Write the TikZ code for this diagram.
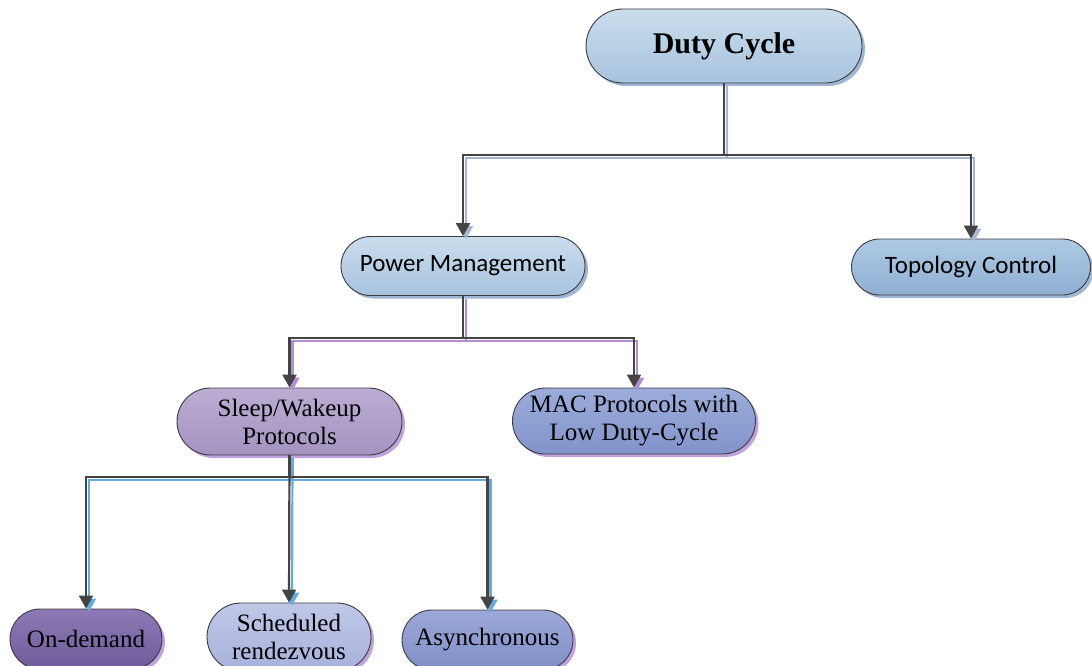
\documentclass[tikz,border=0pt]{standalone}
\usepackage{fontspec}
\setmainfont{Liberation Serif}
\newfontfamily\calfont{Carlito}
\usetikzlibrary{arrows.meta,shadows}
\definecolor{lineDark}{HTML}{444444}
\definecolor{boxLine}{HTML}{3C3C3C}
\definecolor{shOne}{HTML}{A4B6D0}
\definecolor{shTwo}{HTML}{B48CD6}
\definecolor{shThree}{HTML}{62ACE2}
\definecolor{nsBlue}{HTML}{9DB6D6}
\definecolor{nsPurple}{HTML}{C0A2E0}
\definecolor{dcTop}{HTML}{CADDED}
\definecolor{dcBot}{HTML}{A8C3DE}
\definecolor{tcTop}{HTML}{AECAE4}
\definecolor{tcBot}{HTML}{8FAFD3}
\definecolor{swTop}{HTML}{BCADD4}
\definecolor{swBot}{HTML}{A393C0}
\definecolor{macTop}{HTML}{9CACDA}
\definecolor{macBot}{HTML}{8293CB}
\definecolor{odTop}{HTML}{8C7AB6}
\definecolor{odBot}{HTML}{6F5B9B}
\definecolor{srTop}{HTML}{C0C8E8}
\definecolor{srBot}{HTML}{A8B1DB}
\definecolor{asTop}{HTML}{9CA8D8}
\definecolor{asBot}{HTML}{7F8FC6}
\begin{document}
\begin{tikzpicture}[x=1pt,y=-1pt,
  pill/.style={draw=boxLine, line width=0.9pt, inner sep=0pt, align=center,
    general shadow={fill=#1, shadow xshift=3pt, shadow yshift=-3pt}},
  serifbig/.style={font=\fontsize{25}{28}\selectfont},
  sansbig/.style={font=\calfont\fontsize{25}{28}\selectfont},
  conn/.style={draw=lineDark, line width=2.2pt, -{Triangle[length=13pt,width=14pt]}},
  connsh/.style={draw=#1, line width=2.2pt, -{Triangle[length=13pt,width=14pt]}}
]
\useasboundingbox (0,0) rectangle (1092,666);
\clip (0,0) rectangle (1092,666);

% nodes
\node[pill=nsBlue, top color=dcTop, bottom color=dcBot, minimum width=276pt, minimum height=74pt, rounded corners=37pt,
  font=\bfseries\fontsize{30}{34}\selectfont] (dc) at (724,46) {Duty Cycle};
\node[pill=nsBlue, top color=dcTop, bottom color=dcBot, minimum width=244pt, minimum height=59pt, rounded corners=29.5pt, sansbig] (pm) at (463,266) {Power Management};
\node[pill=nsBlue, top color=tcTop, bottom color=tcBot, minimum width=239pt, minimum height=56pt, rounded corners=28pt, sansbig] (tc) at (971,267) {Topology Control};
\node[pill=nsPurple, top color=swTop, bottom color=swBot, minimum width=225pt, minimum height=67pt, rounded corners=33.5pt, serifbig] (sw) at (289.5,421.5) {Sleep/Wakeup\\Protocols};
\node[pill=nsPurple, top color=macTop, bottom color=macBot, minimum width=243pt, minimum height=66pt, rounded corners=33pt, serifbig] (mac) at (634,421) {MAC Protocols with\\Low Duty-Cycle};
\node[pill=nsPurple, top color=odTop, bottom color=odBot, minimum width=152pt, minimum height=60pt, rounded corners=30pt, serifbig] (od) at (86,639) {On-demand};
\node[pill=nsPurple, top color=srTop, bottom color=srBot, minimum width=164pt, minimum height=68pt, rounded corners=34pt, serifbig] (sr) at (289,637) {Scheduled\\rendezvous};
\node[pill=nsPurple, top color=asTop, bottom color=asBot, minimum width=171pt, minimum height=60pt, rounded corners=30pt, serifbig] (as) at (487.5,640) {Asynchronous};

% junction levels
\coordinate (j1) at (0,155);
\coordinate (j2) at (0,338);
\coordinate (j3) at (0,477);

% connector shadows
\begin{scope}[transform canvas={xshift=3pt,yshift=-3pt}]
\draw[connsh=shOne] (dc.south) -- (dc.south |- j1) -| (pm.north);
\draw[connsh=shOne] (dc.south) -- (dc.south |- j1) -| (tc.north);
\draw[connsh=shTwo] (pm.south) -- (pm.south |- j2) -| (sw.north);
\draw[connsh=shTwo] (pm.south) -- (pm.south |- j2) -| (mac.north);
\draw[connsh=shThree] (sw.south) -- (sw.south |- j3) -| (od.north);
\draw[connsh=shThree] (sw.south) -- (sr.north);
\draw[connsh=shThree] (sw.south) -- (sw.south |- j3) -| (as.north);
\end{scope}

% connectors
\draw[conn] (dc.south) -- (dc.south |- j1) -| (pm.north);
\draw[conn] (dc.south) -- (dc.south |- j1) -| (tc.north);
\draw[conn] (pm.south) -- (pm.south |- j2) -| (sw.north);
\draw[conn] (pm.south) -- (pm.south |- j2) -| (mac.north);
\draw[conn] (sw.south) -- (sw.south |- j3) -| (od.north);
\draw[conn] (sw.south) -- (sr.north);
\draw[conn] (sw.south) -- (sw.south |- j3) -| (as.north);
\end{tikzpicture}
\end{document}
